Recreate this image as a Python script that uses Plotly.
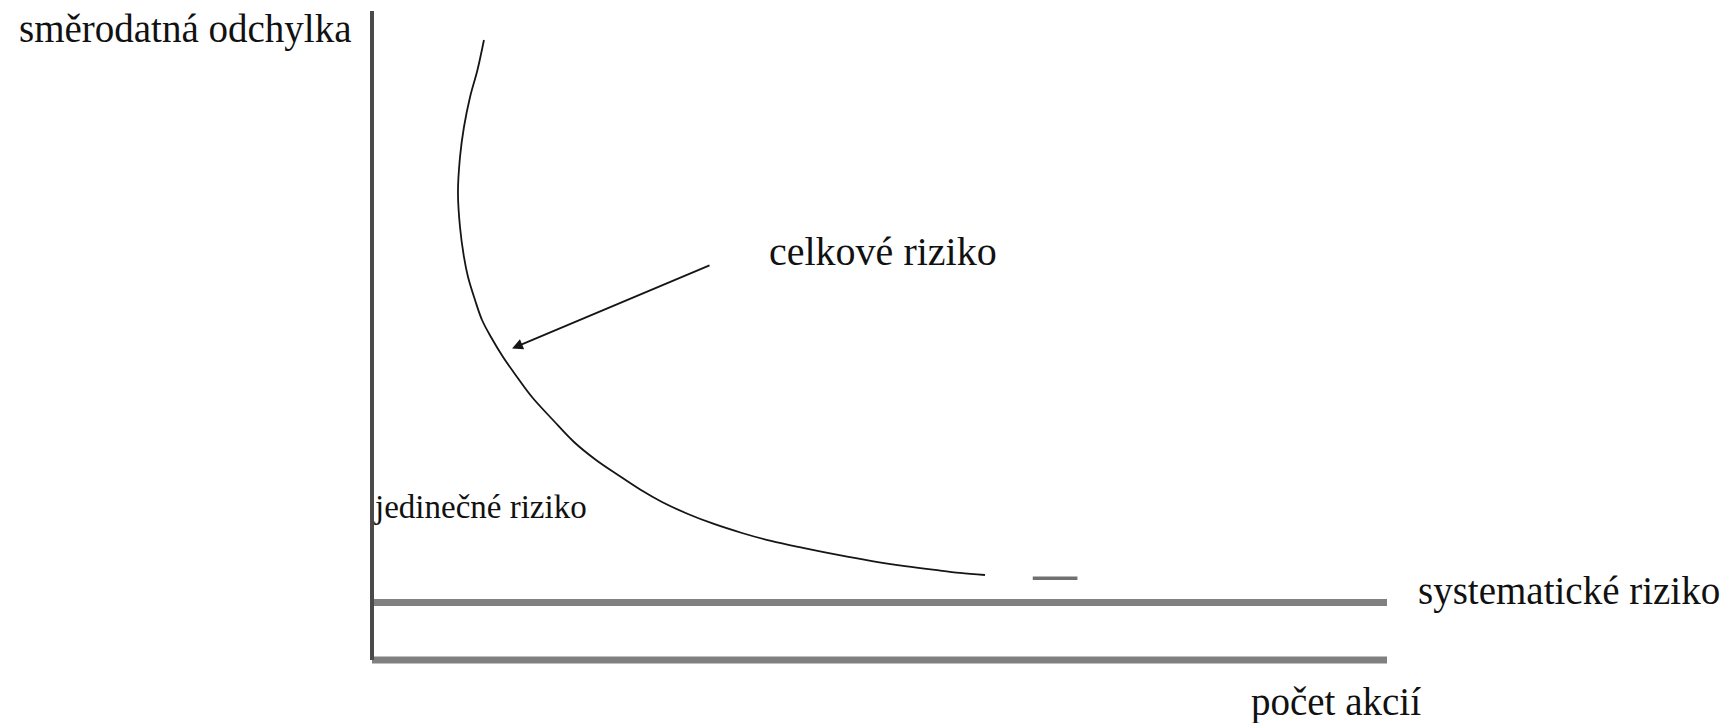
import plotly.graph_objects as go

# ---- data (x: number of stocks, arbitrary units 0..100; y: std. deviation, 0..100) ----
curve_x = [11.03, 10.39, 9.66, 9.06, 8.67, 8.47, 8.67, 9.06, 9.46, 10.15, 10.84,
           11.72, 12.91, 14.29, 15.76, 17.83, 19.90, 22.07, 24.24, 26.50, 28.57,
           31.13, 33.69, 36.45, 39.31, 42.46, 45.91, 49.26, 52.51, 55.47, 57.93, 60.39]
curve_y = [95.53, 90.91, 86.75, 82.13, 77.50, 71.96, 66.72, 62.10, 59.01, 55.47, 52.39,
           49.77, 46.69, 43.61, 40.52, 36.98, 33.59, 30.82, 28.51, 26.19, 24.35,
           22.50, 20.96, 19.57, 18.34, 17.26, 16.18, 15.25, 14.48, 13.87, 13.41, 13.10]
tail_x = [65.1, 69.5]
tail_y = [12.6, 12.6]
systematic_level = 8.86
axis_x = [0, 100]
axis_y = [0, 100]
arrow_head = (13.8, 48.0)
arrow_tail = (33.4, 60.9)

# labels
y_title = "směrodatná odchylka"
x_title = "počet akcií"
total_label = "celkové riziko"
unique_label = "jedinečné riziko"
system_label = "systematické riziko"

# page body has an 8px margin: the figure starts at (8, 8) in the window
W, H = 1723, 715
FONT = "Liberation Serif"

fig = go.Figure()

fig.add_trace(go.Scatter(x=axis_x, y=[axis_y[0], axis_y[0]], mode="lines",
                         line=dict(color="#808080", width=7), hoverinfo="skip"))
fig.add_trace(go.Scatter(x=axis_x, y=[systematic_level, systematic_level], mode="lines",
                         line=dict(color="#808080", width=7), hoverinfo="skip"))
fig.add_trace(go.Scatter(x=[axis_x[0], axis_x[0]], y=axis_y, mode="lines",
                         line=dict(color="#4a4a4a", width=4), hoverinfo="skip"))
fig.add_trace(go.Scatter(x=curve_x, y=curve_y, mode="lines",
                         line=dict(color="#151515", width=1.8, shape="spline", smoothing=1.0),
                         hoverinfo="skip"))
fig.add_trace(go.Scatter(x=tail_x, y=tail_y, mode="lines",
                         line=dict(color="#707070", width=3.5), hoverinfo="skip"))

tf = dict(family=FONT, color="#111111")
annots = [
    dict(x=-35.0, y=97.2, text=y_title, xanchor="left", yanchor="middle",
         font=dict(size=39, **tf)),
    dict(x=38.9, y=62.9, text=total_label, xanchor="left", yanchor="middle",
         font=dict(size=40, **tf)),
    dict(x=0.0, y=23.5, text=unique_label, xanchor="left", yanchor="middle",
         font=dict(size=33, **tf)),
    dict(x=102.9, y=10.6, text=system_label, xanchor="left", yanchor="middle",
         font=dict(size=39, **tf)),
    dict(x=86.4, y=-6.4, text=x_title, xanchor="left", yanchor="middle",
         font=dict(size=39, **tf)),
]
for a in annots:
    a.update(xref="x", yref="y", showarrow=False)

annots.append(dict(x=arrow_head[0], y=arrow_head[1], ax=arrow_tail[0], ay=arrow_tail[1],
                   xref="x", yref="y", axref="x", ayref="y", text="", showarrow=True,
                   arrowhead=2, arrowsize=1.2, arrowwidth=1.8, arrowcolor="#151515"))

px_per_x = 10.15
px_per_y = 6.49
x_range = [(8 - 372) / px_per_x, (1731 - 372) / px_per_x]
y_range = [(660 - 723) / px_per_y, (660 - 8) / px_per_y]

fig.update_layout(
    width=W, height=H,
    margin=dict(l=0, r=0, t=0, b=0),
    paper_bgcolor="white", plot_bgcolor="white",
    showlegend=False,
    annotations=annots,
    xaxis=dict(range=x_range, visible=False, fixedrange=True),
    yaxis=dict(range=y_range, visible=False, fixedrange=True),
)

fig.write_html("out.html")
